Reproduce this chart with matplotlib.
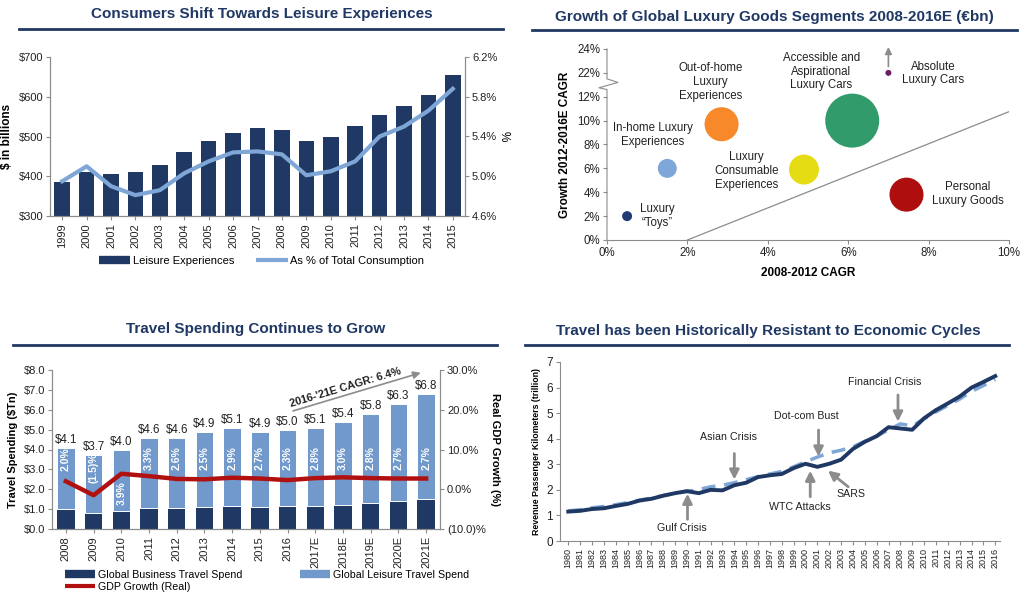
import numpy as np
import matplotlib
matplotlib.use("Agg")
import matplotlib.pyplot as plt
from matplotlib.lines import Line2D

plt.rcParams["font.family"] = ["Liberation Sans", "DejaVu Sans"]
plt.rcParams["axes.edgecolor"] = "#8c8c8c"
plt.rcParams["axes.linewidth"] = 0.8
plt.rcParams["xtick.color"] = "#8c8c8c"
plt.rcParams["ytick.color"] = "#8c8c8c"
plt.rcParams["xtick.labelcolor"] = "#222222"
plt.rcParams["ytick.labelcolor"] = "#222222"
plt.rcParams["xtick.direction"] = "out"
plt.rcParams["ytick.direction"] = "out"

NAVY = "#1f3864"
LIGHT = "#7ea6d6"
LIGHT2 = "#7199cc"
RED = "#b01010"
GRAY = "#8c8c8c"

# ---- consumers shift towards leisure
years_le = ["1999", "2000", "2001", "2002", "2003", "2004", "2005", "2006", "2007",
            "2008", "2009", "2010", "2011", "2012", "2013", "2014", "2015"]
leisure_bn = [385, 410, 405, 411, 429, 461, 488, 509, 522, 517, 488, 499, 526, 555, 576, 604, 655]
share_pct = [4.95, 5.10, 4.90, 4.81, 4.86, 5.03, 5.15, 5.24, 5.25, 5.22, 5.01, 5.05, 5.15,
             5.40, 5.50, 5.66, 5.88]

# ---- luxury goods segments
segments = ["Luxury\n\u201cToys\u201d", "In-home Luxury\nExperiences", "Out-of-home\nLuxury\nExperiences",
            "Luxury\nConsumable\nExperiences", "Accessible and\nAspirational\nLuxury Cars",
            "Personal\nLuxury Goods", "Absolute\nLuxury Cars"]
cagr_08_12 = [0.5, 1.5, 2.85, 4.9, 6.1, 7.45, 7.0]
cagr_12_16 = [2.0, 6.0, 9.7, 5.9, 10.0, 3.8, 22.0]
segment_size = [25, 90, 290, 225, 730, 290, 9]
segment_colors = ["#1f3b73", "#7ea6d8", "#f7892a", "#e6dc13", "#319b6c", "#ae0e0e", "#6e1f64"]
ref_x = [2, 10]
ref_y = [0, 10.75]

# ---- travel spending
years_tr = ["2008", "2009", "2010", "2011", "2012", "2013", "2014", "2015", "2016",
            "2017E", "2018E", "2019E", "2020E", "2021E"]
total_tn = [4.1, 3.7, 4.0, 4.6, 4.6, 4.9, 5.1, 4.9, 5.0, 5.1, 5.4, 5.8, 6.3, 6.8]
business_tn = [1.0, 0.82, 0.92, 1.07, 1.07, 1.12, 1.18, 1.12, 1.17, 1.17, 1.22, 1.32, 1.42, 1.52]
gdp_pct = [2.0, -1.5, 3.9, 3.3, 2.6, 2.5, 2.9, 2.7, 2.3, 2.8, 3.0, 2.8, 2.7, 2.7]

# ---- air traffic
years_air = list(range(1980, 2017))
rpk_tn = [1.15, 1.18, 1.25, 1.28, 1.37, 1.45, 1.58, 1.65, 1.77, 1.87, 1.95, 1.87, 2.00,
          1.98, 2.18, 2.28, 2.50, 2.57, 2.62, 2.85, 3.02, 2.90, 3.02, 3.18, 3.60, 3.88,
          4.10, 4.45, 4.40, 4.35, 4.80, 5.12, 5.38, 5.65, 6.00, 6.22, 6.45]
trend_tn = [1.18, 1.22, 1.30, 1.35, 1.42, 1.50, 1.60, 1.68, 1.78, 1.86, 1.93, 2.01, 2.12,
            2.18, 2.28, 2.40, 2.52, 2.62, 2.72, 2.90, 3.10, 3.28, 3.45, 3.55, 3.68, 3.90,
            4.10, 4.35, 4.58, 4.50, 4.78, 5.05, 5.30, 5.55, 5.85, 6.08, 6.32]

W, H = 1024, 599
fig = plt.figure(figsize=(W / 100, H / 100), dpi=100)


def box(l, t, r, b):
    return [l / W, 1 - b / H, (r - l) / W, (b - t) / H]


def header(text, cx, ty, x0, x1, ly):
    fig.text(cx / W, 1 - ty / H, text, ha="center", va="center", fontsize=11,
             fontweight="bold", color=NAVY)
    fig.add_artist(Line2D([x0 / W, x1 / W], [1 - ly / H, 1 - ly / H], color=NAVY, lw=2))


def ticks_small(ax, size=8):
    ax.tick_params(length=3, width=0.8, labelsize=size, pad=2)


def handle(color, lw):
    return Line2D([], [], color=color, lw=lw, solid_capstyle="butt")


header("Consumers Shift Towards Leisure Experiences", 262, 14, 19, 503, 28.5)
header("Growth of Global Luxury Goods Segments 2008-2016E (\u20acbn)", 774, 16.5, 532, 1017, 29.5)
header("Travel Spending Continues to Grow", 256, 329, 13, 497, 344.5)
header("Travel has been Historically Resistant to Economic Cycles", 768, 330.5, 525, 1009, 344.5)

# ================= panel 1
ax1 = fig.add_axes(box(50, 57, 465, 216))
x1 = np.arange(len(years_le))
ax1.bar(x1, leisure_bn, width=0.64, color=NAVY)
ax1.set_xlim(-0.5, len(years_le) - 0.5)
ax1.set_ylim(300, 700)
ax1.set_yticks(range(300, 701, 100), ["$%d" % v for v in range(300, 701, 100)])
ax1.set_xticks(x1, years_le, rotation=90)
ax1.set_ylabel("$ in billions", fontweight="bold", fontsize=8.5, labelpad=4)
ax1.spines["top"].set_visible(False)
ticks_small(ax1)
ax1r = ax1.twinx()
ax1r.plot(x1, share_pct, color=LIGHT, lw=3)
ax1r.set_ylim(4.6, 6.2)
pt = [4.6, 5.0, 5.4, 5.8, 6.2]
ax1r.set_yticks(pt, ["%.1f%%" % t for t in pt])
ax1r.set_ylabel("%", rotation=-90, fontsize=8.5, labelpad=9)
ax1r.spines["top"].set_visible(False)
ticks_small(ax1r)
h1 = [handle(NAVY, 6), handle(LIGHT, 3)]
ax1.legend(h1, ["Leisure Experiences", "As % of Total Consumption"], loc="center",
           bbox_to_anchor=(0.51, -0.283), ncol=2, frameon=False, fontsize=8,
           handlelength=2.8, handletextpad=0.25, columnspacing=2.0)

# ================= panel 2
def brk(v):
    return v if v <= 12 else v - 8


ax2 = fig.add_axes(box(607, 49, 1009, 240))
ys = [brk(v) for v in cagr_12_16]
ax2.plot(ref_x, ref_y, color=GRAY, lw=0.9, zorder=1)
ax2.scatter(cagr_08_12, ys, s=np.array(segment_size) * 2.07, c=segment_colors,
            linewidths=0, zorder=3)
ax2.annotate("", xy=(cagr_08_12[-1], 16.4), xytext=(cagr_08_12[-1], ys[-1] + 0.3),
             arrowprops=dict(arrowstyle="-|>", color=GRAY, lw=1.2, mutation_scale=10),
             annotation_clip=False)
label_xy = [(1.25, 2.0), (1.14, 8.8), (2.57, 13.25), (3.47, 5.8), (5.33, 14.1),
            (8.98, 3.85), (8.11, 13.95)]
for name, (lx, ly) in zip(segments, label_xy):
    ax2.text(lx, ly, name, ha="center", va="center", fontsize=8.3, color="#222222",
             linespacing=1.2)
ax2.set_xlim(0, 10)
ax2.set_ylim(0, 16)
ax2.set_xticks(range(0, 11, 2), ["%d%%" % v for v in range(0, 11, 2)])
ax2.set_yticks(range(0, 17, 2), ["%d%%" % v for v in range(0, 13, 2)] + ["22%", "24%"])
for s in ["top", "right", "left"]:
    ax2.spines[s].set_visible(False)
ax2.plot([0, 0, 0.27, -0.2, 0, 0], [16, 13.5, 13.2, 12.75, 12.6, 0], color=GRAY, lw=0.8,
         clip_on=False)
ticks_small(ax2, 8.3)
ax2.set_xlabel("2008-2012 CAGR", fontweight="bold", fontsize=8.5, labelpad=6)
ax2.set_ylabel("Growth 2012-2016E CAGR", fontweight="bold", fontsize=8.5, labelpad=4)

# ================= panel 3
ax3 = fig.add_axes(box(52, 370, 440, 529))
x3 = np.arange(len(years_tr))
leisure_tn = np.array(total_tn) - np.array(business_tn)
ax3.bar(x3, business_tn, width=0.63, color=NAVY)
ax3.bar(x3, leisure_tn, bottom=business_tn, width=0.63, color=LIGHT2, edgecolor="white",
        linewidth=0.7)
for x, t in zip(x3, total_tn):
    ax3.text(x, t + 0.1, "$%.1f" % t, ha="center", va="bottom", fontsize=8.3, color="#222222")
label_y = [min(3.55, t - 0.6) for t in total_tn]
label_y[years_tr.index("2010")] = 1.8
for x, g, y in zip(x3, gdp_pct, label_y):
    txt = "(%.1f)%%" % -g if g < 0 else "%.1f%%" % g
    ax3.text(x, y, txt, rotation=90, ha="center", va="center", fontsize=7.5,
             fontweight="bold", color="white")
ax3.set_xlim(-0.5, len(years_tr) - 0.5)
ax3.set_ylim(0, 8)
ax3.set_yticks(range(0, 9), ["$%.1f" % v for v in range(0, 9)])
ax3.set_xticks(x3, years_tr, rotation=90)
ax3.set_ylabel("Travel Spending ($Tn)", fontweight="bold", fontsize=8, labelpad=4)
ax3.spines["top"].set_visible(False)
ticks_small(ax3)
ax3.annotate("", xy=(12.9, 7.9), xytext=(8.1, 5.9),
             arrowprops=dict(arrowstyle="-|>", color=GRAY, lw=1.2, mutation_scale=11),
             annotation_clip=False)
ax3.text(10.1, 7.12, "2016-'21E CAGR: 6.4%", rotation=16.7, ha="center", va="center",
         fontsize=7.8, fontweight="bold", color="#222222")
ax3r = ax3.twinx()
ax3r.plot(x3, gdp_pct, color=RED, lw=3.2)
ax3r.set_ylim(-10, 30)
gt = [-10, 0, 10, 20, 30]
ax3r.set_yticks(gt, ["(10.0)%" if v < 0 else "%.1f%%" % v for v in gt])
ax3r.set_ylabel("Real GDP Growth (%)", rotation=-90, fontweight="bold", fontsize=8,
                labelpad=10)
ax3r.spines["top"].set_visible(False)
ticks_small(ax3r)
h3 = [handle(NAVY, 6), handle(RED, 3), handle(LIGHT2, 6)]
ax3.legend(h3, ["Global Business Travel Spend", "GDP Growth (Real)",
                "Global Leisure Travel Spend"], loc="upper left",
           bbox_to_anchor=(0.034, -0.255), ncol=2, frameon=False, fontsize=7.7,
           handlelength=2.8, handletextpad=0.25, columnspacing=5.4, labelspacing=0.2,
           borderpad=0, borderaxespad=0)

# ================= panel 4
ax4 = fig.add_axes(box(560, 362, 1000, 541))
ax4.plot(years_air, trend_tn, color=LIGHT, lw=2.5, dashes=(4, 2.5))
ax4.plot(years_air, rpk_tn, color=NAVY, lw=2.8)
ax4.set_xlim(1979.3, 2016.4)
ax4.set_ylim(0, 7)
ax4.set_xticks(years_air, [str(y) for y in years_air], rotation=90)
ax4.set_yticks(range(0, 8))
for s in ["top", "right"]:
    ax4.spines[s].set_visible(False)
ax4.tick_params(axis="x", length=3, labelsize=6.5, pad=2)
ax4.tick_params(axis="y", length=3, labelsize=8.5, pad=2)
ax4.set_ylabel("Revenue Passenger Kilometers (trillion)", fontweight="bold", fontsize=6.3,
               labelpad=4)
events = [("Gulf Crisis", (1989.6, 0.5), (1990.05, 0.85), (1990.05, 1.85)),
          ("Asian Crisis", (1993.5, 4.05), (1994.0, 3.42), (1994.0, 2.4)),
          ("Dot-com Bust", (2000.1, 4.89), (2001.1, 4.34), (2001.1, 3.3)),
          ("WTC Attacks", (1999.55, 1.34), (2000.4, 1.73), (2000.4, 2.75)),
          ("SARS", (2003.8, 1.84), (2003.6, 2.12), (2001.9, 2.75)),
          ("Financial Crisis", (2006.67, 6.23), (2007.8, 5.71), (2007.8, 4.67))]
for name, tp, tail, head in events:
    ax4.text(tp[0], tp[1], name, ha="center", va="center", fontsize=7.7, color="#222222")
    ax4.annotate("", xy=head, xytext=tail,
                 arrowprops=dict(arrowstyle="-|>", color=GRAY, lw=2, mutation_scale=14,
                                 shrinkA=0, shrinkB=0))

fig.savefig("out.png", dpi=100)
